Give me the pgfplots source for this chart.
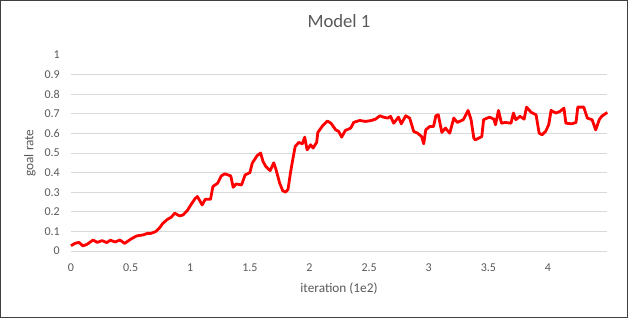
\documentclass[border=0pt]{standalone}
\usepackage{fontspec}
\setmainfont{Carlito}
\usepackage{pgfplots}
\pgfplotsset{compat=1.18}
\usetikzlibrary{calc}
\definecolor{txt}{HTML}{595959}
\definecolor{grd}{HTML}{D9D9D9}
\begin{document}
\begin{tikzpicture}
\begin{axis}[
  name=ax,
  scale only axis,
  width=536pt, height=196pt,
  xmin=0, xmax=4.495, ymin=0, ymax=1,
  xtick={0,0.5,1,1.5,2,2.5,3,3.5,4},
  xticklabels={0,0.5,1,1.5,2,2.5,3,3.5,4},
  ytick={0,0.1,0.2,0.3,0.4,0.5,0.6,0.7,0.8,0.9},
  yticklabels={0,0.1,0.2,0.3,0.4,0.5,0.6,0.7,0.8,0.9},
  extra y ticks={1}, extra y tick labels={1},
  extra y tick style={grid=none},
  ymajorgrids,
  grid style={grd, line width=0.9pt},
  axis line style={draw=none},
  tick style={draw=none},
  tick label style={font=\fontsize{12}{12}\selectfont, text=txt, inner sep=0pt},
  xticklabel style={anchor=center, yshift=-17pt},
  yticklabel style={anchor=east, xshift=-11pt},
  title={Model 1},
  title style={font=\fontsize{18.7}{18.7}\selectfont, text=txt, at={(axis description cs:0.5,1)}, anchor=center, yshift=28pt},
  xlabel={iteration (1e2)},
  ylabel={goal rate},
  label style={font=\fontsize{13.3}{13.3}\selectfont, text=txt},
  xlabel style={at={(axis description cs:0.5,0)}, anchor=center, yshift=-38pt},
  ylabel style={at={(axis description cs:0,0.5)}, anchor=center, rotate=0, yshift=41pt},
  clip=false,
]
\addplot[red, line width=2.8pt, line join=round] coordinates {
(0.000,0.027) (0.034,0.039) (0.067,0.044) (0.100,0.026) (0.134,0.034) (0.185,0.056)
(0.220,0.044) (0.260,0.053) (0.300,0.043) (0.330,0.055) (0.370,0.046) (0.410,0.056)
(0.450,0.039) (0.500,0.060) (0.550,0.077) (0.605,0.082) (0.640,0.090) (0.670,0.090)
(0.710,0.099) (0.740,0.116) (0.770,0.141) (0.810,0.162) (0.840,0.172) (0.870,0.193)
(0.910,0.179) (0.940,0.184) (0.975,0.206) (1.010,0.240) (1.040,0.267) (1.060,0.278)
(1.100,0.235) (1.126,0.264) (1.170,0.264) (1.190,0.329) (1.230,0.346) (1.260,0.383)
(1.290,0.394) (1.340,0.383) (1.360,0.325) (1.385,0.342) (1.430,0.337) (1.460,0.388)
(1.500,0.400) (1.520,0.448) (1.560,0.486) (1.590,0.500) (1.610,0.457) (1.634,0.431)
(1.670,0.410) (1.700,0.450) (1.720,0.414) (1.750,0.346) (1.775,0.308) (1.800,0.300)
(1.820,0.315) (1.840,0.397) (1.860,0.468) (1.880,0.533) (1.910,0.554) (1.940,0.547)
(1.960,0.581) (1.980,0.516) (2.010,0.542) (2.030,0.525) (2.060,0.554) (2.070,0.605)
(2.110,0.639) (2.150,0.663) (2.180,0.652) (2.220,0.618) (2.245,0.610) (2.270,0.581)
(2.300,0.615) (2.346,0.627) (2.370,0.656) (2.420,0.666) (2.470,0.661) (2.520,0.666)
(2.555,0.673) (2.590,0.690) (2.620,0.683) (2.655,0.678) (2.680,0.687) (2.706,0.652)
(2.746,0.683) (2.770,0.649) (2.807,0.690) (2.840,0.678) (2.874,0.610) (2.907,0.601)
(2.940,0.584) (2.958,0.547) (2.975,0.618) (3.008,0.635) (3.040,0.635) (3.060,0.690)
(3.080,0.695) (3.110,0.605) (3.140,0.627) (3.176,0.601) (3.210,0.678) (3.240,0.656)
(3.290,0.670) (3.330,0.717) (3.355,0.670) (3.378,0.576) (3.390,0.567) (3.445,0.584)
(3.460,0.670) (3.510,0.683) (3.546,0.673) (3.560,0.644) (3.585,0.717) (3.610,0.652)
(3.640,0.656) (3.690,0.652) (3.710,0.704) (3.730,0.670) (3.765,0.687) (3.800,0.673)
(3.820,0.734) (3.860,0.707) (3.900,0.695) (3.926,0.601) (3.950,0.593) (3.980,0.610)
(4.006,0.644) (4.026,0.717) (4.067,0.704) (4.100,0.712) (4.134,0.729) (4.150,0.652)
(4.200,0.649) (4.235,0.656) (4.250,0.734) (4.300,0.734) (4.330,0.678) (4.370,0.670)
(4.400,0.618) (4.430,0.670) (4.450,0.687) (4.497,0.707)
};
\end{axis}
\pgfresetboundingbox
\draw[black!75, line width=1pt] ($(ax.south west)+(-70.5pt,-66.5pt)$) rectangle ($(ax.south west)+(556pt,250.5pt)$);
\useasboundingbox ($(ax.south west)+(-71pt,-67pt)$) rectangle ($(ax.south west)+(557pt,251pt)$);
\end{tikzpicture}
\end{document}
